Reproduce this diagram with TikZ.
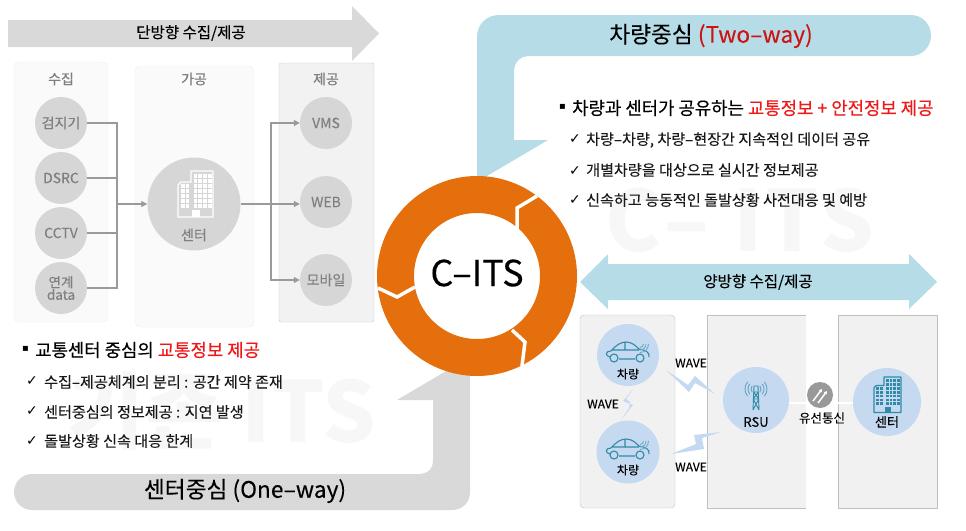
\documentclass[tikz,border=0pt]{standalone}
\usepackage{fontspec}
\setmainfont{Noto Sans CJK KR}
\newfontfamily\djfont{DejaVu Sans}
\newfontfamily\krmed[FakeBold=0.35]{Noto Sans CJK KR}
\newfontfamily\krsemi[FakeBold=0.15]{Noto Sans CJK KR}
\usetikzlibrary{arrows.meta}
\definecolor{orangeR}{HTML}{E56F0C}
\definecolor{tealB}{HTML}{B6DCE7}
\definecolor{grayB}{HTML}{D9D9D9}
\definecolor{discC}{HTML}{D6D6D6}
\definecolor{txtG}{HTML}{7F7F7F}
\definecolor{lineG}{HTML}{9A9A9A}
\definecolor{blueC}{HTML}{C5D9F0}
\definecolor{iconT}{HTML}{2F8BA6}
\definecolor{redT}{HTML}{F01818}
\definecolor{wmark}{HTML}{F7F7F7}
\newcommand{\fsz}[1]{\fontsize{#1}{#1}\selectfont}
\tikzset{
 x=1pt,y=-1pt,
 softpanel/.style={draw=black!7,fill=black!2,rounded corners=5pt},
 darkpanel/.style={draw=black!22,fill=black!5,rounded corners=1.5pt},
 bigpanel/.style={draw=black!25,fill=black!5.5},
 disc/.style={circle,fill=discC,inner sep=0pt,minimum size=52pt,text=txtG,align=center,font=\krsemi\fsz{14}},
 bluedisc/.style={circle,fill=blueC,inner sep=0pt},
 paneltitle/.style={text=txtG,font=\krsemi\fsz{14},inner sep=0pt},
 conn/.style={draw=lineG,line width=1.1pt},
 connarrow/.style={conn,-{Triangle[length=6pt,width=6pt]}},
 leadtext/.style={anchor=west,inner sep=0pt,font=\krmed\fsz{17.8}},
 itemtext/.style={anchor=west,inner sep=0pt,font=\krsemi\fsz{15.1},text=black!90},
 tickmark/.style={anchor=west,inner sep=0pt,font=\djfont\fsz{14}},
 bulletmark/.style={anchor=west,inner sep=0pt,font=\djfont\fsz{10}},
 smalltext/.style={inner sep=0pt,font=\krsemi\fsz{12}},
 bandtitle/.style={inner sep=0pt,font=\krsemi\fsz{22.7}},
 arrowtitle/.style={inner sep=0pt,font=\krsemi\fsz{15.5}},
 boltshape/.style={fill=blueC},
 watermark/.style={inner sep=0pt,text=wmark,font=\fsz{84}\bfseries},
}
\newcommand{\buildingicon}[4]{% x,y,scale,colour (origin top-left)
 \begin{scope}[shift={(#1,#2)},scale=#3]
  \draw[#4,line width=1.2pt,line join=round] (0,14)--(3,11)--(13,11)--(13,0)--(35,0)--(35,46)--(0,46)--cycle;
  \foreach \r in {0,...,6}{\foreach \c in {0,...,3}{\fill[#4] (15.5+\c*4.8,3+\r*5) rectangle ++(3.6,3.6);}}
  \foreach \r in {2,...,6}{\foreach \c in {0,1}{\fill[#4] (3+\c*4.8,3+\r*5) rectangle ++(3.6,3.6);}}
  \fill[#4] (14,39) rectangle (22,46);
 \end{scope}}
\newcommand{\caricon}[2]{%
 \begin{scope}[shift={(#1,#2)}]
  \draw[iconT,line width=1.1pt,line join=round] (-18,2) .. controls (-23,1) and (-23,-4) .. (-17,-4)
    .. controls (-12,-10) and (-7,-13) .. (-2,-13) .. controls (4,-13) and (8,-9) .. (11,-6)
    .. controls (17,-5) and (22,-3) .. (21,2) (-9,4)--(7,4) (-16,-5)--(11,-5) (-3,-13)--(-3,-5);
  \draw[iconT,line width=1.1pt] (-14,3) circle (4) (12,3) circle (4);
  \foreach \q in {3.5,6,8.5}{\draw[iconT!60!blueC,line width=.8pt] (12+\q,-11) arc (0:90:\q);}
 \end{scope}}
\begin{document}
\begin{tikzpicture}
\useasboundingbox (0,0) rectangle (966,530);
% watermarks
\node[watermark,anchor=center] (wmA) at (222,411) {기존 ITS};
\node[watermark,anchor=center] (wmB) at (740,220) {C\hspace{2pt}–\hspace{24pt}I\hspace{2pt}T\hspace{2pt}S};
% gray one-way band
\fill[grayB] (14,492) .. controls (14,482) and (22,474) .. (32,474) -- (418,474) .. controls (428,474) and (433,469) .. (433,460)
 -- (433,400) -- (397,400) -- (470,357) -- (470,492) .. controls (470,503) and (462,510) .. (452,510) -- (32,510) .. controls (22,510) and (14,502) .. (14,492) -- cycle;
% teal two-way band
\fill[tealB] (477,200) -- (477,37) .. controls (477,24) and (487,15) .. (499,15) -- (911,15) .. controls (922,15) and (931,24) .. (931,35.5)
 .. controls (931,47) and (922,56) .. (911,56) -- (530,56) .. controls (520,56) and (514,62) .. (514,72) -- (514,140) -- (548,140) -- (470,186) -- cycle;
% single arrow
\fill[grayB] (8,20) -- (352,20) -- (352,6) -- (379,33.5) -- (352,61) -- (352,47) -- (8,47) -- cycle;
\node[arrowtitle] (t1) at (191,33) {단방향 수집/제공};
% left panels
\path[softpanel] (14,62) rectangle (108,322);
\path[softpanel] (135,66) rectangle (254,327);
\path[darkpanel] (279,63) rectangle (374,322);
\node[paneltitle] (p1) at (61,79) {수집};
\node[paneltitle] (p2) at (194,79) {가공};
\node[paneltitle] (p3) at (326,79) {제공};
\node[disc] (det) at (61,123) {검지기};
\node[disc] (dsrc) at (61,178) {DSRC};
\node[disc] (cctv) at (61,233) {CCTV};
\node[disc,font=\krsemi\fsz{13.5}] (link) at (61,288) {연계\\[-1pt]data};
\node[disc,minimum size=93pt] (ctr) at (194,204) {};
\node[disc] (vms) at (326,123) {VMS};
\node[disc] (web) at (326,202) {WEB};
\node[disc] (mob) at (326,280) {모바일};
\buildingicon{178}{171}{1}{white}
\node[paneltitle] (ctrL) at (194,235) {센터};
\coordinate (busL) at (117,204);
\coordinate (busR) at (271,204);
\draw[conn] (det.east) -| (busL);
\draw[conn] (dsrc.east) -| (busL);
\draw[conn] (cctv.east) -| (busL);
\draw[conn] (link.east) -| (busL);
\draw[connarrow] (busL) -- (ctr.west);
\draw[conn] (ctr.east) -- (busR);
\draw[connarrow] (busR) |- (vms.west);
\draw[connarrow] (busR) -- (web.west |- busR);
\draw[connarrow] (busR) |- (mob.west);
% left text
\node[bulletmark] (bL) at (22,349) {▪};
\node[leadtext] (lL) at (35,350) {교통센터 중심의 \textcolor{redT}{교통정보 제공}};
\node[tickmark] (c1) at (26,381) {✓};
\node[itemtext] (i1) at (44,382) {수집–제공체계의 분리 : 공간 제약 존재};
\node[tickmark] (c2) at (26,411) {✓};
\node[itemtext] (i2) at (44,412) {센터중심의 정보제공 : 지연 발생};
\node[tickmark] (c3) at (26,441) {✓};
\node[itemtext] (i3) at (44,441) {돌발상황 신속 대응 한계};
\node[bandtitle] (tOne) at (245,491) {센터중심 (One–way)};
% right text
\node[bandtitle] (tTwo) at (711,36) {차량중심 \textcolor{redT!85!black}{(Two–way)}};
\node[bulletmark] (bR) at (559,107) {▪};
\node[leadtext] (lR) at (572,108) {차량과 센터가 공유하는 \textcolor{redT}{교통정보 + 안전정보 제공}};
\node[tickmark] (c4) at (569,139) {✓};
\node[itemtext] (i4) at (586,140) {차량–차량, 차량–현장간 지속적인 데이터 공유};
\node[tickmark] (c5) at (569,171) {✓};
\node[itemtext] (i5) at (586,170) {개별차량을 대상으로 실시간 정보제공};
\node[tickmark] (c6) at (569,200) {✓};
\node[itemtext] (i6) at (586,200) {신속하고 능동적인 돌발상황 사전대응 및 예방};
% double arrow
\fill[tealB] (580,282) -- (608,254) -- (608,264) -- (909,264) -- (909,254) -- (937,282) -- (909,309) -- (909,300) -- (608,300) -- (608,309) -- cycle;
\node[arrowtitle] (t2) at (758,282) {양방향 수집/제공};
% bottom panels
\path[bigpanel,rounded corners=4pt] (580,315) rectangle (675,508);
\fill[black!5.5] (707,315) rectangle (806,508);
\draw[black!25] (806,315) -- (707,315) -- (707,508) -- (806,508);
\path[bigpanel] (838,315) rectangle (937,508);
% wired link
\node[bluedisc,minimum size=62pt] (car1) at (628,355) {};
\node[bluedisc,minimum size=63pt] (car2) at (628,452) {};
\node[bluedisc,minimum size=66pt] (rsu) at (756,400) {};
\node[bluedisc,minimum size=68pt] (cen) at (887,402) {};
\coordinate (wireA) at (789,403);
\coordinate (wireB) at (853,403);
\draw[draw=blueC!70!black!90,double=white,line width=.7pt,double distance=1.4pt] (wireA) -- (wireB);
\node[circle,fill=black!40,inner sep=0pt,minimum size=26pt] (wire) at (820,395) {};
\draw[white,line width=1.5pt,-{Triangle[length=3pt,width=3.5pt]}] (813,401) -- (822,389);
\draw[white,line width=1.5pt,-{Triangle[length=3pt,width=3.5pt]}] (818,403) -- (827,391);
\node[smalltext,font=\krsemi\fsz{12.5}] (wireL) at (822,418) {유선통신};
\caricon{628}{355}
\caricon{628}{452}
\node[smalltext,font=\krmed\fsz{12}] (carL1) at (628,374) {차량};
\node[smalltext,font=\krmed\fsz{12}] (carL2) at (628,470) {차량};
\node[smalltext,font=\krsemi\fsz{13}] (rsuL) at (756,422) {RSU};
\node[smalltext,font=\krsemi\fsz{13}] (cenL) at (887,422) {센터};
\buildingicon{874}{377}{0.77}{iconT}
% RSU mast
\begin{scope}[shift={(756,396)}]
 \draw[iconT,line width=.9pt] (-3,14)--(-2,-10)--(2,-10)--(3,14) (-2.4,-4)--(2.4,-4) (-2.8,3)--(2.8,3) (-2.4,-4)--(2.8,3)--(-3,14) (2.4,-4)--(-2.8,3)--(3,14);
 \foreach \q in {5,8,11}{
  \draw[iconT!70!blueC,line width=.8pt] ([shift={(0,-7)}]-40:\q) arc (-40:40:\q);
  \draw[iconT!70!blueC,line width=.8pt] ([shift={(0,-7)}]140:\q) arc (140:220:\q);
 }
\end{scope}
% bolts
\fill[boltshape] (666,370)--(689,392)--(695,383)--(715,394)--(695,376)--(688,385)--cycle;
\fill[boltshape] (671,454)--(696,444)--(694,435)--(721,432)--(702,438)--(704,449)--cycle;
\fill[boltshape] (634,388)--(623,401)--(633,405)--(621,420)--(629,408)--(630,402)--(626,399)--cycle;
\node[smalltext] (w1) at (691,363) {WAVE};
\node[smalltext] (w2) at (603,404) {WAVE};
\node[smalltext] (w3) at (691,467) {WAVE};
% ring
\fill[orangeR,even odd rule] (477,276) circle (100) (477,276) circle (63);
\coordinate (g1a) at (537,196); \coordinate (g1b) at (517,208); \coordinate (g1c) at (517,229);
\coordinate (g2a) at (378,288); \coordinate (g2b) at (397,297); \coordinate (g2c) at (415,287);
\coordinate (g3a) at (512,330); \coordinate (g3b) at (525,342); \coordinate (g3c) at (522,366);
\draw[white,line width=3.5pt,line join=miter] (g1a)--(g1b)--(g1c);
\draw[white,line width=3.5pt,line join=miter] (g2a)--(g2b)--(g2c);
\draw[white,line width=3.5pt,line join=miter] (g3a)--(g3b)--(g3c);
\node[inner sep=0pt,font=\krsemi\fsz{36}] (its) at (477,273) {C–ITS};
\end{tikzpicture}
\end{document}
